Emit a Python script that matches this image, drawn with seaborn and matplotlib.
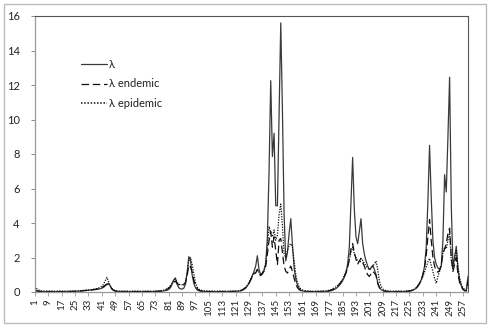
import numpy as np
import pandas as pd
import matplotlib
matplotlib.use("Agg")
import matplotlib.pyplot as plt
import matplotlib.patches as mpatches
import seaborn as sns

# ---------------- data (indices 1..260) ----------------
lam = [
    0.15, 0.08, 0.05, 0.04, 0.03, 0.03, 0.03, 0.02, 0.02, 0.02,
    0.02, 0.02, 0.02, 0.02, 0.02, 0.02, 0.02, 0.02, 0.02, 0.03,
    0.03, 0.03, 0.03, 0.03, 0.04, 0.04, 0.05, 0.05, 0.06, 0.07,
    0.08, 0.09, 0.10, 0.11, 0.12, 0.13, 0.14, 0.15, 0.17, 0.19,
    0.22, 0.27, 0.35, 0.45, 0.50, 0.35, 0.18, 0.09, 0.05, 0.04,
    0.03, 0.03, 0.02, 0.02, 0.02, 0.02, 0.02, 0.02, 0.02, 0.02,
    0.02, 0.02, 0.02, 0.02, 0.02, 0.02, 0.02, 0.02, 0.02, 0.02,
    0.02, 0.02, 0.03, 0.03, 0.03, 0.04, 0.05, 0.06, 0.08, 0.10,
    0.15, 0.25, 0.45, 0.70, 0.82, 0.45, 0.25, 0.18, 0.17, 0.22,
    0.45, 1.10, 2.05, 1.85, 1.00, 0.50, 0.25, 0.12, 0.07, 0.05,
    0.04, 0.03, 0.03, 0.02, 0.02, 0.02, 0.02, 0.02, 0.02, 0.02,
    0.02, 0.02, 0.02, 0.02, 0.02, 0.02, 0.02, 0.02, 0.02, 0.03,
    0.03, 0.04, 0.05, 0.07, 0.10, 0.15, 0.22, 0.35, 0.50, 0.70,
    0.95, 1.20, 1.50, 2.10, 1.30, 1.00, 1.10, 1.25, 1.60, 3.20,
    7.00, 12.25, 7.85, 9.20, 5.00, 5.00, 10.30, 15.60, 10.50, 4.50,
    1.80, 2.30, 3.40, 4.25, 2.70, 1.40, 0.75, 0.40, 0.20, 0.10,
    0.06, 0.04, 0.03, 0.02, 0.02, 0.02, 0.02, 0.02, 0.02, 0.02,
    0.02, 0.02, 0.02, 0.03, 0.03, 0.04, 0.05, 0.07, 0.10, 0.14,
    0.20, 0.28, 0.38, 0.50, 0.65, 0.85, 1.15, 1.60, 2.60, 5.20,
    7.80, 4.80, 3.20, 2.80, 3.50, 4.25, 2.80, 2.20, 1.80, 1.50,
    1.30, 1.40, 1.55, 1.30, 1.00, 0.55, 0.28, 0.14, 0.08, 0.05,
    0.04, 0.03, 0.02, 0.02, 0.02, 0.02, 0.02, 0.02, 0.02, 0.02,
    0.02, 0.03, 0.03, 0.04, 0.05, 0.07, 0.10, 0.15, 0.22, 0.32,
    0.48, 0.70, 1.00, 1.50, 2.60, 5.20, 8.50, 5.50, 3.00, 2.00,
    1.60, 1.40, 1.30, 1.50, 3.00, 6.80, 5.80, 9.00, 12.45, 5.00,
    1.50, 2.00, 2.65, 1.30, 0.70, 0.35, 0.18, 0.08, 0.10, 0.90,
]

lam_endemic = [
    0.10, 0.06, 0.04, 0.03, 0.03, 0.03, 0.03, 0.03, 0.03, 0.03,
    0.03, 0.03, 0.03, 0.03, 0.03, 0.03, 0.03, 0.03, 0.03, 0.03,
    0.03, 0.03, 0.04, 0.04, 0.04, 0.05, 0.05, 0.06, 0.07, 0.08,
    0.09, 0.10, 0.11, 0.12, 0.13, 0.14, 0.15, 0.17, 0.19, 0.22,
    0.26, 0.32, 0.40, 0.45, 0.42, 0.30, 0.18, 0.10, 0.06, 0.05,
    0.04, 0.04, 0.03, 0.03, 0.03, 0.03, 0.03, 0.03, 0.03, 0.03,
    0.03, 0.03, 0.03, 0.03, 0.03, 0.03, 0.03, 0.03, 0.03, 0.03,
    0.03, 0.03, 0.04, 0.04, 0.05, 0.06, 0.07, 0.09, 0.12, 0.16,
    0.22, 0.32, 0.45, 0.58, 0.62, 0.50, 0.42, 0.40, 0.40, 0.42,
    0.55, 0.95, 1.55, 1.45, 1.15, 0.70, 0.38, 0.20, 0.11, 0.07,
    0.05, 0.04, 0.04, 0.03, 0.03, 0.03, 0.03, 0.03, 0.03, 0.03,
    0.03, 0.03, 0.03, 0.03, 0.03, 0.03, 0.03, 0.03, 0.04, 0.04,
    0.04, 0.05, 0.06, 0.08, 0.12, 0.18, 0.26, 0.38, 0.52, 0.70,
    0.90, 1.05, 1.10, 1.30, 1.05, 0.95, 1.05, 1.20, 1.50, 2.20,
    3.00, 3.50, 2.60, 3.20, 2.40, 1.60, 3.00, 3.10, 2.30, 1.50,
    1.20, 1.10, 1.30, 1.50, 1.20, 0.80, 0.45, 0.25, 0.14, 0.08,
    0.05, 0.04, 0.03, 0.03, 0.03, 0.03, 0.03, 0.03, 0.03, 0.03,
    0.03, 0.03, 0.04, 0.04, 0.05, 0.06, 0.08, 0.11, 0.15, 0.20,
    0.26, 0.34, 0.44, 0.56, 0.72, 0.90, 1.10, 1.40, 1.90, 2.50,
    2.80, 2.30, 1.90, 1.60, 1.80, 1.95, 1.70, 1.50, 1.20, 1.00,
    0.90, 1.05, 1.20, 1.10, 0.95, 0.50, 0.25, 0.12, 0.07, 0.05,
    0.04, 0.03, 0.03, 0.03, 0.03, 0.03, 0.03, 0.03, 0.03, 0.03,
    0.03, 0.03, 0.04, 0.05, 0.06, 0.08, 0.11, 0.16, 0.24, 0.35,
    0.50, 0.70, 1.00, 1.40, 2.10, 3.20, 4.20, 3.00, 2.00, 1.50,
    1.20, 1.15, 1.25, 1.60, 2.20, 2.50, 2.80, 3.40, 3.70, 2.00,
    1.20, 1.60, 2.00, 1.00, 0.55, 0.30, 0.15, 0.07, 0.06, 0.70,
]

lam_epidemic = [
    0.35, 0.20, 0.12, 0.08, 0.06, 0.05, 0.05, 0.05, 0.05, 0.05,
    0.05, 0.05, 0.05, 0.05, 0.05, 0.05, 0.05, 0.05, 0.05, 0.05,
    0.05, 0.05, 0.05, 0.05, 0.06, 0.06, 0.07, 0.07, 0.08, 0.09,
    0.10, 0.11, 0.12, 0.13, 0.14, 0.16, 0.18, 0.20, 0.23, 0.27,
    0.33, 0.45, 0.65, 0.85, 0.60, 0.35, 0.20, 0.12, 0.08, 0.06,
    0.05, 0.05, 0.05, 0.05, 0.05, 0.05, 0.05, 0.05, 0.05, 0.05,
    0.05, 0.05, 0.05, 0.05, 0.05, 0.05, 0.05, 0.05, 0.05, 0.05,
    0.05, 0.05, 0.05, 0.06, 0.06, 0.07, 0.09, 0.11, 0.14, 0.19,
    0.26, 0.38, 0.52, 0.68, 0.75, 0.55, 0.45, 0.42, 0.42, 0.45,
    0.62, 1.10, 1.80, 2.00, 1.60, 1.05, 0.55, 0.28, 0.16, 0.11,
    0.09, 0.08, 0.07, 0.06, 0.06, 0.05, 0.05, 0.05, 0.05, 0.05,
    0.05, 0.05, 0.05, 0.05, 0.05, 0.05, 0.05, 0.05, 0.05, 0.05,
    0.05, 0.06, 0.07, 0.09, 0.13, 0.19, 0.28, 0.40, 0.55, 0.75,
    0.95, 1.10, 1.15, 1.35, 1.10, 1.00, 1.10, 1.30, 1.70, 2.60,
    3.80, 3.40, 3.20, 3.60, 3.00, 3.30, 4.50, 5.10, 3.80, 2.20,
    2.00, 2.40, 2.70, 2.80, 2.60, 1.80, 1.00, 0.55, 0.30, 0.18,
    0.12, 0.09, 0.07, 0.06, 0.05, 0.05, 0.05, 0.05, 0.05, 0.05,
    0.05, 0.05, 0.05, 0.06, 0.07, 0.08, 0.10, 0.13, 0.18, 0.24,
    0.30, 0.38, 0.48, 0.60, 0.76, 0.95, 1.15, 1.45, 1.85, 2.30,
    2.60, 2.20, 2.00, 1.80, 1.70, 1.80, 1.85, 1.65, 1.50, 1.40,
    1.30, 1.35, 1.50, 1.60, 1.80, 1.30, 0.65, 0.32, 0.18, 0.11,
    0.08, 0.06, 0.05, 0.05, 0.05, 0.05, 0.05, 0.05, 0.05, 0.05,
    0.05, 0.05, 0.05, 0.06, 0.07, 0.09, 0.12, 0.17, 0.25, 0.36,
    0.50, 0.68, 0.90, 1.15, 1.45, 1.75, 1.95, 1.55, 1.20, 0.80,
    0.50, 0.90, 1.20, 1.50, 2.30, 2.60, 2.50, 3.00, 3.50, 1.80,
    1.30, 2.00, 2.40, 1.50, 0.80, 0.45, 0.25, 0.14, 0.10, 0.50,
]

time_index = list(range(1, len(lam) + 1))
x_tick_labels = [str(v) for v in range(1, 258, 8)]
y_ticks = [0, 2, 4, 6, 8, 10, 12, 14, 16]
series_names = ["λ", "λ endemic", "λ epidemic"]

# ---------------- styling ----------------
sns.set_style("white")
plt.rcParams["font.family"] = ["Lato", "DejaVu Sans"]

fig = plt.figure(figsize=(4.91, 3.27), dpi=100)
ax = fig.add_axes([35 / 491, 35 / 327, 433 / 491, 276 / 327])

df = pd.DataFrame({"t": time_index, series_names[0]: lam,
                   series_names[1]: lam_endemic, series_names[2]: lam_epidemic})
long = df.melt(id_vars="t", var_name="series", value_name="value")

sns.lineplot(data=long, x="t", y="value", hue="series", style="series",
             hue_order=series_names, style_order=series_names,
             palette={series_names[0]: "#3a3a3a", series_names[1]: "#111111",
                      series_names[2]: "#111111"},
             dashes={series_names[0]: "", series_names[1]: (6, 3),
                     series_names[2]: (1, 1.1)},
             linewidth=0.9, ax=ax, legend=True)

# make the dotted series a touch heavier, like the reference
for line in ax.get_lines():
    if line.get_label() == series_names[2]:
        line.set_linewidth(1.1)

ax.set_xlim(1, len(lam))
ax.set_ylim(0, 16)
ax.set_yticks(y_ticks)
ax.set_yticklabels([str(v) for v in y_ticks], fontsize=8)
ax.set_xticks(list(range(1, 258, 8)))
ax.set_xticklabels(x_tick_labels, rotation=90, fontsize=7)
ax.set_xticks(time_index, minor=True)
ax.set_xlabel("")
ax.set_ylabel("")

ax.tick_params(axis="y", which="major", direction="out", length=3, width=0.7,
               color="#888888", pad=8, labelcolor="#222222")
ax.tick_params(axis="x", which="major", direction="out", length=3, width=0.6,
               color="#999999", pad=2, labelcolor="#222222")
ax.tick_params(axis="x", which="minor", direction="out", length=2, width=0.4,
               color="#aaaaaa")
ax.tick_params(left=True, bottom=True)

for side in ["top", "right"]:
    ax.spines[side].set_color("#555555")
    ax.spines[side].set_linewidth(0.8)
for side in ["left", "bottom"]:
    ax.spines[side].set_color("#999999")
    ax.spines[side].set_linewidth(0.9)

leg = ax.legend(loc="upper left", bbox_to_anchor=(0.095, 0.86), frameon=False,
                fontsize=8, handlelength=2.4, handletextpad=0.15,
                labelspacing=0.75, borderaxespad=0)
for t in leg.get_texts():
    t.set_color("#222222")

fig.patches.append(mpatches.Rectangle((4 / 491, 4.3 / 327), 481.5 / 491, 318.5 / 327,
                                      transform=fig.transFigure, fill=False,
                                      edgecolor="#bcbcbc", linewidth=1.0))

fig.savefig("out.png", dpi=100, facecolor="white")
